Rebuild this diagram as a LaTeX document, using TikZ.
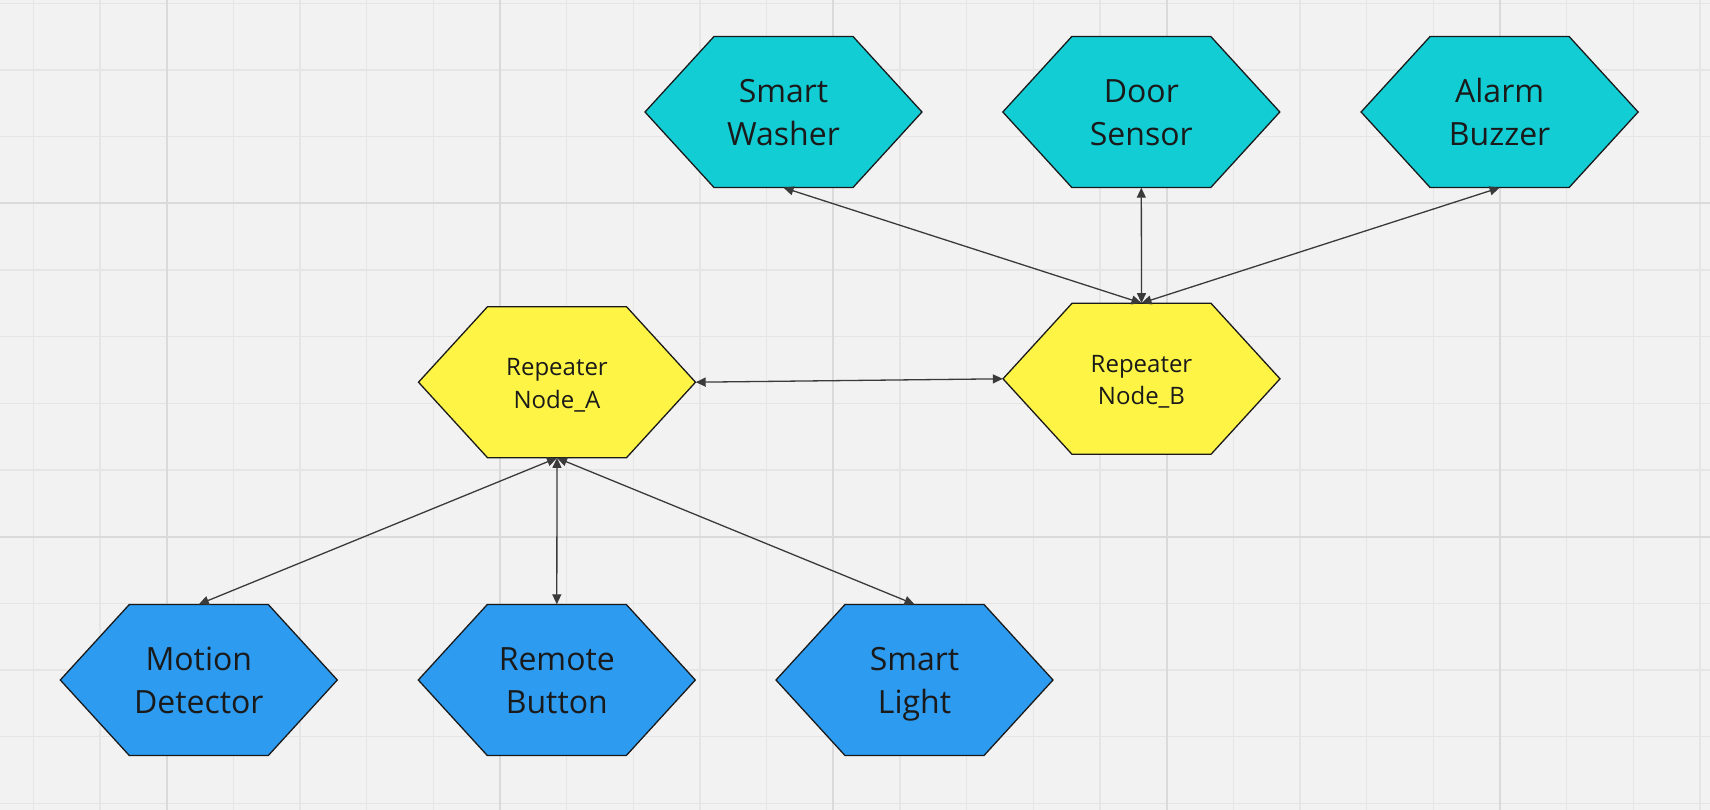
\documentclass[tikz,border=0pt]{standalone}
\usepackage{fontspec}
\setmainfont{Open Sans}
\usetikzlibrary{arrows.meta}
\definecolor{bg}{HTML}{F2F2F2}
\definecolor{minorgrid}{HTML}{E5E5E5}
\definecolor{majorgrid}{HTML}{DADADA}
\definecolor{teal}{HTML}{12CDD4}
\definecolor{yel}{HTML}{FEF445}
\definecolor{blu}{HTML}{2D9BF0}
\definecolor{edge}{HTML}{1A1A1A}
\definecolor{txt}{HTML}{1A1A1A}
\definecolor{conncol}{HTML}{3A3A3A}
% name, x, y, fill style, font style, line 1, line 2, baseline offset 1, baseline offset 2
\newcommand\hexnode[9]{%
  \filldraw[hexborder,#4] (#2-138.5,#3) -- (#2-69.5,#3-75.5) -- (#2+69.5,#3-75.5)
    -- (#2+138.5,#3) -- (#2+69.5,#3+75.5) -- (#2-69.5,#3+75.5) -- cycle;
  \node[hexframe] (#1) at (#2,#3) {};
  \node[hexlabel,#5] (#1-l1) at (#2,#3+#8) {#6};
  \node[hexlabel,#5] (#1-l2) at (#2,#3+#9) {#7};
}
\tikzset{
  hexborder/.style={draw=edge, line width=1.3pt, line join=miter},
  tealfill/.style={fill=teal},
  yelfill/.style={fill=yel},
  blufill/.style={fill=blu},
  hexframe/.style={shape=rectangle, minimum width=277pt, minimum height=151pt,
    inner sep=0pt},
  hexlabel/.style={anchor=base, inner sep=0pt, text=txt},
  bigtext/.style={font=\fontsize{32}{43}\selectfont},
  smalltext/.style={font=\fontsize{24}{32}\selectfont},
  conn/.style={draw=conncol, line width=1.3pt,
    {Triangle[length=10pt,width=9pt]}-{Triangle[length=10pt,width=9pt]}},
  minorline/.style={draw=minorgrid, line width=1.3pt},
  majorline/.style={draw=majorgrid, line width=1.8pt}
}
\begin{document}
\begin{tikzpicture}[x=1pt,y=-1pt]
\fill[bg] (0,0) rectangle (1710,810);
\useasboundingbox (0,0) rectangle (1710,810);
% grid
\foreach \i in {0,...,25} \draw[minorline] ({33.333+66.667*\i},0) -- ++(0,810);
\foreach \i in {0,...,12} \draw[minorline] (0,{3.333+66.667*\i}) -- ++(1710,0);
\foreach \i in {0,...,4} \draw[majorline] ({166.667+333.333*\i},0) -- ++(0,810);
\foreach \i in {0,1} \draw[majorline] (0,{203.333+333.333*\i}) -- ++(1710,0);
% nodes
\hexnode{SW}{783.5}{112}{tealfill}{bigtext}{Smart}{Washer}{-9.4}{33.8}
\hexnode{DS}{1141.3}{112}{tealfill}{bigtext}{Door}{Sensor}{-9.4}{33.8}
\hexnode{AB}{1499.6}{112}{tealfill}{bigtext}{Alarm}{Buzzer}{-9.4}{33.8}
\hexnode{RA}{557}{382.2}{yelfill}{smalltext}{Repeater}{Node\_A}{-6.6}{26}
\hexnode{RB}{1141.5}{378.8}{yelfill}{smalltext}{Repeater}{Node\_B}{-6.6}{26}
\hexnode{MD}{198.8}{680}{blufill}{bigtext}{Motion}{Detector}{-9.4}{33.8}
\hexnode{RBt}{556.8}{680}{blufill}{bigtext}{Remote}{Button}{-9.4}{33.8}
\hexnode{SL}{914.5}{680}{blufill}{bigtext}{Smart}{Light}{-9.4}{33.8}
% connectors
\draw[conn] (RA.south) -- (MD.north);
\draw[conn] (RA.south) -- (RBt.north);
\draw[conn] (RA.south) -- (SL.north);
\draw[conn] (RA.east) -- (RB.west);
\draw[conn] (RB.north) -- (SW.south);
\draw[conn] (RB.north) -- (DS.south);
\draw[conn] (RB.north) -- (AB.south);
\end{tikzpicture}
\end{document}
